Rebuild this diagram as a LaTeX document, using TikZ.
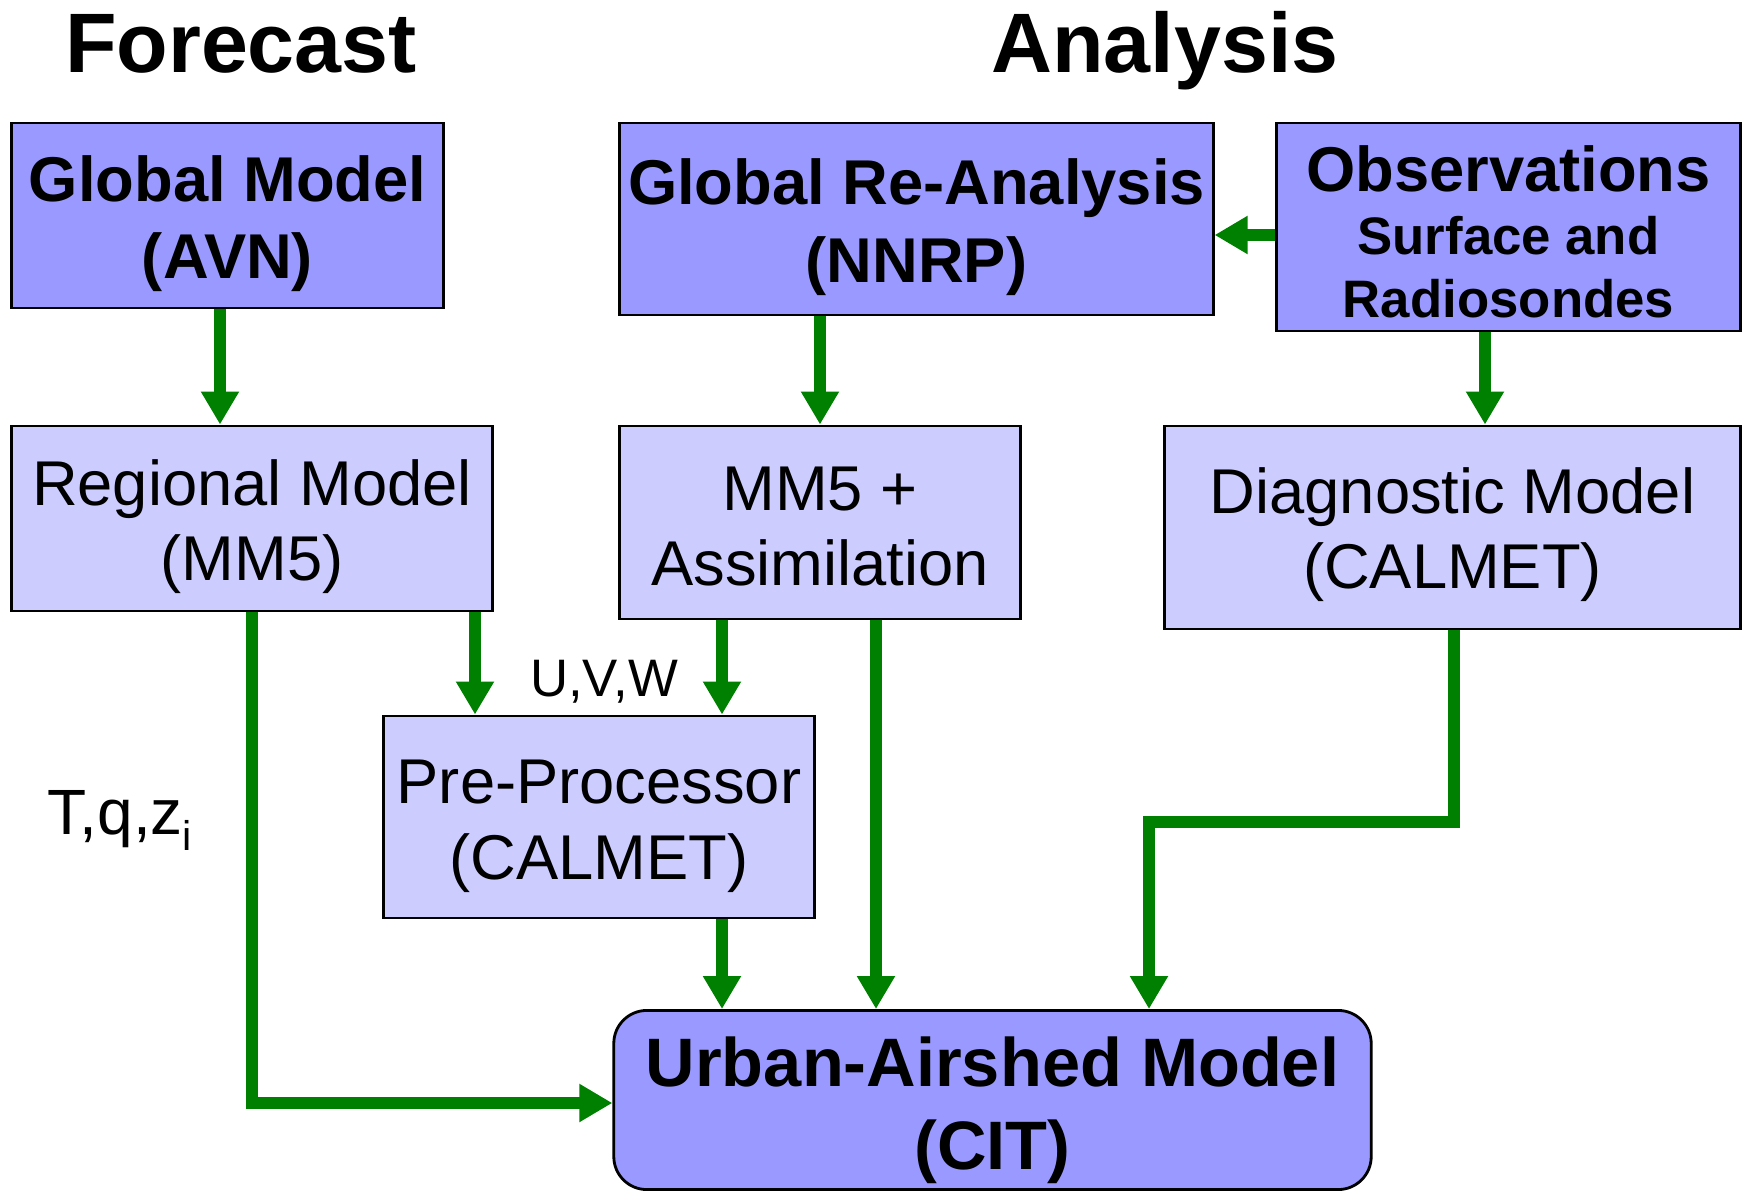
\documentclass[tikz,border=0pt]{standalone}
\usepackage{fontspec}
\setmainfont{Liberation Sans}
\usetikzlibrary{arrows.meta}
\definecolor{darkfill}{HTML}{9999FF}
\definecolor{lightfill}{HTML}{CCCCFF}
\definecolor{flowgreen}{RGB}{0,128,0}
\newcommand{\topstrut}[1]{\rule{0pt}{#1}}
\tikzset{
  darkbox/.style={draw=black, line width=0.8pt, fill=darkfill, align=center, inner sep=0pt,
    font=\bfseries\fontsize{18}{22}\selectfont},
  lightbox/.style={draw=black, line width=0.8pt, fill=lightfill, align=center, inner sep=0pt,
    font=\fontsize{18}{21.5}\selectfont},
  title/.style={font=\bfseries\fontsize{24}{28}\selectfont, anchor=base, inner sep=0pt},
  flow/.style={draw=flowgreen, line width=3.4pt, line join=miter,
    -{Triangle[width=3.6mm,length=3.3mm]}}
}
\begin{document}
\begin{tikzpicture}[x=0.01cm,y=-0.01cm]
\useasboundingbox (0,0) rectangle (1745,1191);
\clip (0,0) rectangle (1745,1191);
% titles
\node[title] (forecast) at (241,73) {Forecast};
\node[title] (analysis) at (1165,73) {Analysis};
% top row
\node[darkbox, minimum width=4.31cm, minimum height=1.85cm] (gm) at (227.5,215.5) {\topstrut{17.6pt}Global Model\\(AVN)};
\node[darkbox, minimum width=5.93cm, minimum height=1.92cm] (gra) at (916.5,219) {\topstrut{17.6pt}Global Re-Analysis\\(NNRP)};
\node[darkbox, minimum width=4.63cm, minimum height=2.08cm, font=\bfseries\fontsize{15}{18}\selectfont] (obs) at (1508.5,227)
  {{\fontsize{18}{18}\selectfont\topstrut{15.9pt}Observations}\\Surface and\\Radiosondes};
% middle row
\node[lightbox, minimum width=4.80cm, minimum height=1.85cm] (rm) at (252,518.5) {\topstrut{17.6pt}Regional Model\\(MM5)};
\node[lightbox, minimum width=4.00cm, minimum height=1.93cm] (mm5) at (820,522.5) {\topstrut{14.6pt}MM5 +\\Assimilation};
\node[lightbox, minimum width=5.75cm, minimum height=2.03cm] (diag) at (1452.5,527.5) {\topstrut{17pt}Diagnostic Model\\(CALMET)};
\node[lightbox, minimum width=4.30cm, minimum height=2.02cm] (pp) at (599,817) {\topstrut{17.6pt}Pre-Processor\\(CALMET)};
% bottom
\node[darkbox, rounded corners=0.33cm, minimum width=7.57cm, minimum height=1.79cm,
  font=\bfseries\fontsize{19.5}{23.5}\selectfont] (urban) at (992.5,1100) {\topstrut{19.9pt}Urban-Airshed Model\\(CIT)};
% labels
\node[anchor=base, inner sep=0pt, font=\fontsize{15}{18}\selectfont] (uvw) at (604,696) {U,V,W};
\node[anchor=base west, inner sep=0pt, font=\fontsize{18.2}{20}\selectfont] (tqz) at (47,834)
  {T,q,z\raisebox{-4.6pt}{\fontsize{11.8}{12}\selectfont i}};
% connectors
\draw[flow] (gm.south -| 220,0) -- (rm.north -| 220,0);
\draw[flow] (gra.south -| 820,0) -- (mm5.north -| 820,0);
\draw[flow] (obs.south -| 1485,0) -- (diag.north -| 1485,0);
\draw[flow] (obs.west |- 0,235) -- (gra.east |- 0,235);
\draw[flow] (rm.south -| 475,0) -- (pp.north -| 475,0);
\draw[flow] (mm5.south -| 722,0) -- (pp.north -| 722,0);
\draw[flow] (pp.south -| 722,0) -- (urban.north -| 722,0);
\draw[flow] (mm5.south -| 876,0) -- (urban.north -| 876,0);
\draw[flow] (rm.south -| 252,0) -- (252,1103) -- (urban.west |- 0,1103);
\draw[flow] (diag.south -| 1454,0) -- (1454,822) -- (1149,822) -- (urban.north -| 1149,0);
\end{tikzpicture}
\end{document}
